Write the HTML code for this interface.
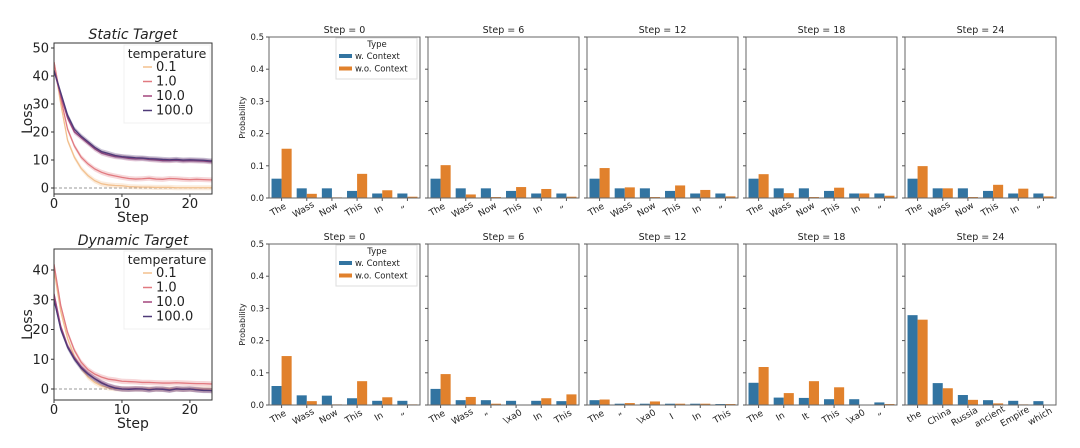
<!DOCTYPE html>
<html><head><meta charset="utf-8"><style>
html,body{margin:0;padding:0;background:#fff;}
svg{display:block;font-family:"DejaVu Sans","Liberation Sans",sans-serif;}
</style></head><body>
<svg id="fig" width="1080" height="448" viewBox="0 0 1080 448" xmlns="http://www.w3.org/2000/svg"></svg>
<script>
// ---- Loss line data ----
const steps = [0,1,2,3,4,5,6,7,8,9,10,11,12,13,14,15,16,17,18,19,20,21,22,23,24];
const temps = ["0.1","1.0","10.0","100.0"];
const staticT01 = [45,30,17,11,7,4.4,2.6,1.5,1.1,0.9,0.8,0.5,0.4,0.3,0.3,0.2,0.2,0.2,0.1,0.1,0.1,0.1,0.1,0.1,0.1];
const staticT1 = [45,32,21,15,11,8.6,6.8,5.6,4.8,4.3,3.8,3.4,3.2,3.3,3.5,3.2,3.1,3.4,3.3,3.1,3,3.1,3,2.9,2.9];
const staticT10 = [42,33,25,20,18,16,14,12.5,11.8,11.2,11,10.6,10.4,10.5,10.2,10,9.8,9.8,9.9,9.7,9.8,9.7,9.6,9.4,9.5];
const staticT100 = [42,34,26,21,18.5,16.5,14.5,13,12.3,11.6,11.2,11,10.8,10.7,10.5,10.4,10.2,10.1,10.2,10,10.1,10,9.9,9.7,9.9];
const dynT01 = [40,26,17,11,7,4,2.2,1,0.4,0.1,0,0,0,0,0,0,0,0,0,0,0,0,0,0,0];
const dynT1 = [42,28,19,13,9,6.5,5,4,3.3,3,2.6,2.5,2.4,2.2,2.2,2.1,2,2,2.1,2,1.9,1.8,1.8,1.7,1.7];
const dynT10 = [32,21,14.5,10.5,7.5,5.2,3.5,2.2,1.1,0.4,0,0,0.1,0,-0.2,0,0,-0.3,0.1,-0.1,0,-0.2,-0.4,-0.5,-0.8];
const dynT100 = [30,20,14,10,7,5,3.4,2,1,0.3,0,-0.1,0,0,-0.3,0,-0.1,-0.4,0,-0.1,0,-0.3,-0.5,-0.5,-0.8];
const lossColors = ["#f2c08e","#e17a80","#a3457c","#4e3a78"];

// ---- Bar data ----
const stepLabels = ["0","6","12","18","24"];
const topCats = [
 ["The","Wass","Now","This","In","\u201d"],
 ["The","Wass","Now","This","In","\u201d"],
 ["The","Wass","Now","This","In","\u201d"],
 ["The","Wass","Now","This","In","\u201d"],
 ["The","Wass","Now","This","In","\u201d"]];
const topWith = [
 [0.060,0.030,0.030,0.022,0.014,0.014],
 [0.060,0.030,0.030,0.022,0.014,0.014],
 [0.060,0.030,0.030,0.022,0.014,0.014],
 [0.060,0.030,0.030,0.022,0.014,0.014],
 [0.060,0.030,0.030,0.022,0.014,0.014]];
const topWithout = [
 [0.153,0.013,0.002,0.075,0.024,0.004],
 [0.102,0.011,0.003,0.034,0.028,0.004],
 [0.093,0.033,0.003,0.039,0.025,0.005],
 [0.074,0.015,0.003,0.032,0.014,0.007],
 [0.099,0.030,0.003,0.041,0.029,0.005]];
const botCats = [
 ["The","Wass","Now","This","In","\u201d"],
 ["The","Wass","\u201d","\\xa0","In","This"],
 ["The","\u201d","\\xa0","I","In","This"],
 ["The","In","It","This","\\xa0","\u201d"],
 ["the","China","Russia","ancient","Empire","which"]];
const botWith = [
 [0.059,0.030,0.029,0.021,0.013,0.013],
 [0.050,0.015,0.015,0.013,0.013,0.012],
 [0.015,0.004,0.004,0.004,0.004,0.003],
 [0.069,0.023,0.022,0.018,0.018,0.008],
 [0.279,0.068,0.031,0.015,0.013,0.012]];
const botWithout = [
 [0.152,0.012,0.002,0.074,0.024,0.002],
 [0.096,0.025,0.004,0.000,0.021,0.033],
 [0.017,0.006,0.011,0.004,0.004,0.003],
 [0.118,0.037,0.074,0.055,0.001,0.003],
 [0.265,0.052,0.016,0.005,0.002,0.001]];
const probTicks = [0,0.1,0.2,0.3,0.4,0.5];

const NS="http://www.w3.org/2000/svg";
const svg=document.getElementById('fig');
function mk(tag,attrs,parent,text){const e=document.createElementNS(NS,tag);for(const k in attrs)e.setAttribute(k,attrs[k]);if(text!==undefined)e.textContent=text;(parent||svg).appendChild(e);return e;}

// ---------- Loss panels ----------
function lossPanel(cfg){
  const g=mk('g',{});
  
  
  const L=54,R=212,T=cfg.top,B=cfg.bottom;
  const xs=v=>L+(v-0)*(R-L)/23.25;
  const ys=v=>cfg.y0+(cfg.y0-cfg.y10)*(-v/10);
  const z=mk('line',{x1:L,x2:R,y1:ys(0),y2:ys(0),stroke:'#777','stroke-width':0.8,'stroke-dasharray':'3,2'},g);
  
  const clip=mk('clipPath',{id:cfg.name+'-clip'},g);mk('rect',{x:L,y:T,width:R-L,height:B-T},clip);
  cfg.series.forEach((s,i)=>{
    const band=steps.map((x,j)=>[xs(x),ys(s[j]+0.9)]).concat(steps.slice().reverse().map((x,j)=>[xs(x),ys(s[steps.length-1-j]-0.9)]));
    const b=mk('polygon',{points:band.map(p=>p.join(',')).join(' '),fill:lossColors[i],opacity:0.3,'clip-path':`url(#${cfg.name}-clip)`},g);
    
    const l=mk('polyline',{points:steps.map((x,j)=>xs(x)+','+ys(s[j])).join(' '),fill:'none',stroke:lossColors[i],'stroke-width':1.3,'clip-path':`url(#${cfg.name}-clip)`},g);
    
  });
  const fr=mk('rect',{x:L,y:T,width:R-L,height:B-T,fill:'none',stroke:'#333','stroke-width':1},g);
  
  cfg.yticks.forEach(v=>{
    mk('line',{x1:L-3,x2:L,y1:ys(v),y2:ys(v),stroke:'#333'},g);
    const t=mk('text',{x:L-5,y:ys(v)+4.5,'text-anchor':'end','font-size':13,fill:'#222'},g,String(v));
    
  });
  [0,10,20].forEach(v=>{
    mk('line',{x1:xs(v),x2:xs(v),y1:B,y2:B+3,stroke:'#333'},g);
    const t=mk('text',{x:xs(v),y:B+14,'text-anchor':'middle','font-size':13,fill:'#222'},g,String(v));
    
  });
  const xt=mk('text',{x:133,y:B+28,'text-anchor':'middle','font-size':14,fill:'#222'},g,'Step');
  
  const yt=mk('text',{x:0,y:0,'text-anchor':'middle','font-size':14,fill:'#222',transform:`translate(32,${(T+B)/2}) rotate(-90)`},g,'Loss');
  
  const ti=mk('text',{x:133,y:T-4,'text-anchor':'middle','font-size':14,'font-style':'italic',fill:'#222'},g,cfg.title);
  
  const lg=mk('g',{},g);
  
  mk('rect',{x:124,y:T+2,width:86,height:78,fill:'#fff',opacity:0.85,stroke:'#eee'},lg);
  mk('text',{x:167,y:T+15,'text-anchor':'middle','font-size':12.5,fill:'#222'},lg,'temperature');
  temps.forEach((tp,i)=>{
    const y=T+28+i*14.5;
    mk('line',{x1:143,x2:152,y1:y-4,y2:y-4,stroke:lossColors[i],'stroke-width':1.5},lg);
    const e=mk('text',{x:156,y:y,'font-size':13,fill:'#222'},lg,tp);
    
  });
}
lossPanel({name:'static-target-chart',title:'Static Target',top:43,bottom:194,y0:188,y10:160,yticks:[0,10,20,30,40,50],series:[staticT01,staticT1,staticT10,staticT100]});
lossPanel({name:'dynamic-target-chart',title:'Dynamic Target',top:249,bottom:400,y0:389,y10:359.25,yticks:[0,10,20,30,40],series:[dynT01,dynT1,dynT10,dynT100]});

// ---------- Bar panels ----------
const panelX=[269,428,587,746,905];
const PW=151;
const blue='#3274a1',orange='#e1812c';
function barRow(rowName,top,bottom,cats,wv,wov){
  const ys=v=>bottom-(v/0.5)*(bottom-top);
  panelX.forEach((L,p)=>{
    const g=mk('g',{});
    
    
    const cw=PW/6;
    cats[p].forEach((c,i)=>{
      const cx=L+cw*(i+0.5);
      const b1=mk('rect',{x:cx-cw*0.4,y:ys(wv[p][i]),width:cw*0.4,height:bottom-ys(wv[p][i]),fill:blue},g);
      
      const b2=mk('rect',{x:cx,y:ys(wov[p][i]),width:cw*0.4,height:bottom-ys(wov[p][i]),fill:orange},g);
      
      mk('line',{x1:cx,x2:cx,y1:bottom,y2:bottom+3,stroke:'#555'},g);
      const t=mk('text',{x:0,y:0,'text-anchor':'middle','font-size':9,fill:'#222',transform:`translate(${cx-2},${bottom+14}) rotate(-30)`},g,c);
      
    });
    const fr=mk('rect',{x:L,y:top,width:PW,height:bottom-top,fill:'none',stroke:'#666','stroke-width':1},g);
    
    probTicks.forEach(v=>{
      mk('line',{x1:L-3,x2:L,y1:ys(v),y2:ys(v),stroke:'#555'},g);
      if(p===0){
        const t=mk('text',{x:L-5,y:ys(v)+3,'text-anchor':'end','font-size':8.5,fill:'#222'},g,v.toFixed(1));
        
      }
    });
    const ti=mk('text',{x:L+PW/2,y:top-4,'text-anchor':'middle','font-size':9.5,fill:'#222'},g,'Step = '+stepLabels[p]);
    
    if(p===0){
      const yt=mk('text',{x:0,y:0,'text-anchor':'middle','font-size':8,fill:'#222',transform:`translate(245,${(top+bottom)/2}) rotate(-90)`},g,'Probability');
      
      const lg=mk('g',{},g);
      
      mk('rect',{x:336,y:top+1,width:81,height:41,fill:'#fff',stroke:'#ddd'},lg);
      mk('text',{x:377,y:top+10,'text-anchor':'middle','font-size':8.5,fill:'#222'},lg,'Type');
      mk('rect',{x:339,y:top+17,width:13,height:4,fill:blue},lg);
      const e1=mk('text',{x:355,y:top+22,'font-size':8.5,fill:'#222'},lg,'w. Context');
      
      mk('rect',{x:339,y:top+29.5,width:13,height:4,fill:orange},lg);
      const e2=mk('text',{x:355,y:top+34.5,'font-size':8.5,fill:'#222'},lg,'w.o. Context');
      
    }
  });
}
barRow('top-row',37,198,topCats,topWith,topWithout);
barRow('bottom-row',244,405,botCats,botWith,botWithout);
</script>
</body></html>
